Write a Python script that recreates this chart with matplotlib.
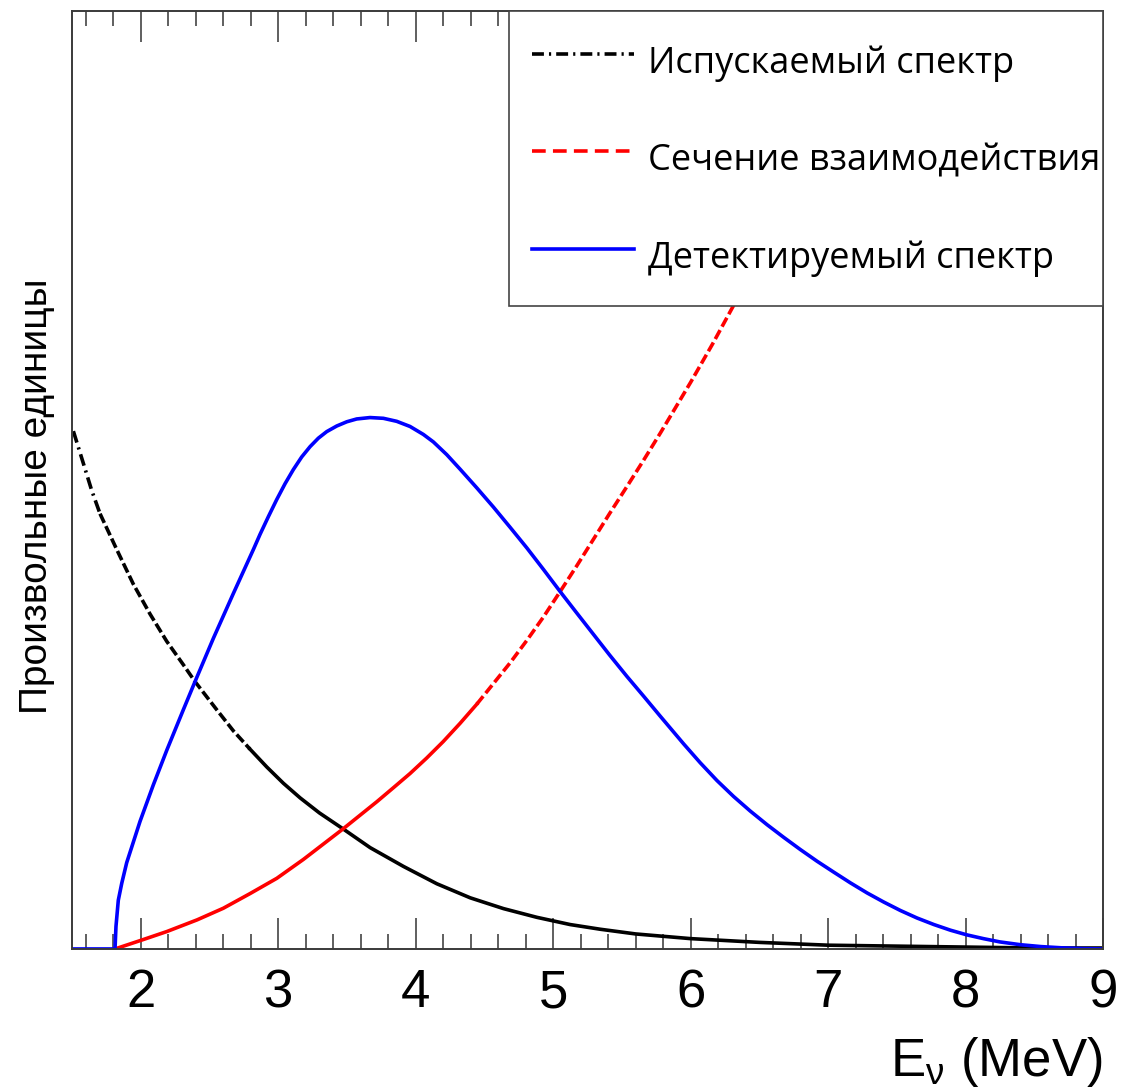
import numpy as np
import matplotlib
matplotlib.use("Agg")
from matplotlib import pyplot as plt
from matplotlib.lines import Line2D
from matplotlib.ticker import MultipleLocator

# Energy spectra (arbitrary units, axis height = 1)

# emitted spectrum
e_emit = [1.51, 1.582, 1.643, 1.704, 1.825, 1.946, 2.068, 2.189, 2.31, 2.395, 2.553, 2.674,
          2.795, 2.917, 3.038, 3.16, 3.30, 3.472, 3.669, 3.911, 4.154, 4.397, 4.639, 4.882,
          5.124, 5.343, 5.6, 6.0, 6.5, 7.0, 7.5, 8.0, 8.5, 9.0]
y_emit = [0.552, 0.518, 0.489, 0.464, 0.426, 0.389, 0.357, 0.328, 0.303, 0.285, 0.255, 0.2325,
          0.213, 0.194, 0.1766, 0.161, 0.145, 0.128, 0.108, 0.088, 0.0695, 0.0545, 0.043, 0.0337,
          0.026, 0.021, 0.016, 0.011, 0.007, 0.004, 0.003, 0.002, 0.001, 0.001]

# interaction cross section
e_xsec = [1.813, 2.01, 2.189, 2.41, 2.601, 2.795, 2.99, 3.183, 3.472, 3.718, 3.839, 3.959,
          4.08, 4.2, 4.323, 4.445, 4.566, 4.687, 4.809, 4.93, 5.051, 5.17, 5.29, 5.41,
          5.537, 5.658, 5.78, 6.0, 6.16, 6.32, 6.45]
y_xsec = [0.0, 0.0096, 0.0185, 0.031, 0.0434, 0.059, 0.0753, 0.0954, 0.128, 0.157, 0.172, 0.187,
          0.2035, 0.221, 0.2405, 0.261, 0.283, 0.305, 0.329, 0.354, 0.381, 0.408, 0.436, 0.464,
          0.493, 0.521, 0.550, 0.604, 0.645, 0.688, 0.72]

# detected spectrum
e_det = [1.50, 1.813, 1.820, 1.837, 1.862, 1.898, 1.995, 2.092, 2.19, 2.31, 2.395, 2.528,
         2.674, 2.82, 2.868, 2.929, 2.989, 3.050, 3.110, 3.171, 3.232, 3.292, 3.353, 3.426,
         3.499, 3.571, 3.668, 3.765, 3.862, 3.959, 4.056, 4.129, 4.226, 4.323, 4.445, 4.566,
         4.687, 4.809, 4.930, 5.051, 5.17, 5.29, 5.41, 5.537, 5.658, 5.78, 5.95, 6.07, 6.192,
         6.313, 6.434, 6.556, 6.677, 6.798, 6.92, 7.04, 7.162, 7.284, 7.405, 7.526, 7.647,
         7.77, 7.89, 8.01, 8.13, 8.25, 8.4, 8.55, 8.7, 8.85, 9.0]
y_det = [0.0, 0.0, 0.024, 0.052, 0.070, 0.092, 0.136, 0.175, 0.212, 0.255, 0.285, 0.331,
         0.379, 0.426, 0.442, 0.461, 0.479, 0.496, 0.511, 0.5245, 0.5355, 0.5445, 0.5515, 0.5575,
         0.562, 0.565, 0.5665, 0.5657, 0.5625, 0.557, 0.5485, 0.5405, 0.527, 0.5115, 0.4915, 0.471,
         0.4495, 0.4275, 0.4045, 0.381, 0.3585, 0.336, 0.3135, 0.2905, 0.2695, 0.248, 0.2185, 0.1985, 0.1795,
         0.1625, 0.147, 0.1325, 0.119, 0.106, 0.0935, 0.082, 0.0705, 0.0597, 0.050, 0.041, 0.033,
         0.026, 0.020, 0.015, 0.011, 0.0075, 0.0045, 0.0025, 0.0012, 0.0004, 0.0]

labels = ["Испускаемый спектр", "Сечение взаимодействия", "Детектируемый спектр"]
x_ticks = [2, 3, 4, 5, 6, 7, 8, 9]

plt.rcParams['font.family'] = ['Liberation Sans', 'DejaVu Sans']
plt.rcParams['mathtext.fontset'] = 'custom'
plt.rcParams['mathtext.rm'] = 'Liberation Sans'

fig = plt.figure(figsize=(11.23, 10.92), dpi=100)
ax = fig.add_axes([0.0641, 0.131, 0.9181, 0.859])

lw = 2.6
e_emit = np.array(e_emit)
y_emit = np.array(y_emit)
e_xsec = np.array(e_xsec)
y_xsec = np.array(y_xsec)

# the original line styles look broken into pieces, so draw each piece on its own
m1 = e_emit <= 1.704
m2 = (e_emit >= 1.704) & (e_emit <= 2.795)
m3 = e_emit >= 2.795
ax.plot(e_emit[m1], y_emit[m1], color='black', lw=lw, dashes=(3.3, 1.4, 0.6, 1.4))
ax.plot(e_emit[m2], y_emit[m2], color='black', lw=lw, dashes=(2.8, 1.0))
ax.plot(e_emit[m3], y_emit[m3], color='black', lw=lw)

r1 = e_xsec <= 4.445
r2 = e_xsec >= 4.445
ax.plot(e_xsec[r1], y_xsec[r1], color='red', lw=lw)
ax.plot(e_xsec[r2], y_xsec[r2], color='red', lw=lw, dashes=(2.8, 1.1))

ax.plot(e_det, y_det, color='blue', lw=lw)

ax.set_xlim(1.5, 9)
ax.set_ylim(0, 1)
ax.set_xticks(x_ticks)
ax.xaxis.set_minor_locator(MultipleLocator(0.2))
ax.set_yticks([])
ax.tick_params(axis='x', which='both', direction='in', top=True, bottom=True,
               colors='#444444', labelcolor='black', width=1.2)
ax.tick_params(axis='x', which='major', length=22, pad=14, labelsize=38)
ax.tick_params(axis='x', which='minor', length=11)
for s in ax.spines.values():
    s.set_color('#3a3a3a')
    s.set_linewidth(1.4)

ax.set_xlabel(r'E$_{\mathrm{\nu}}$ (MeV)', fontsize=38, loc='right', labelpad=12)
ax.set_ylabel("Произвольные единицы", fontsize=28)
ax.yaxis.set_label_coords(-0.016, 0.483)

handles = [Line2D([], [], color='black', lw=lw, dashes=(3.3, 1.4, 0.6, 1.4)),
           Line2D([], [], color='red', lw=lw, dashes=(3.8, 2.0)),
           Line2D([], [], color='blue', lw=lw)]
leg = ax.legend(handles, labels, loc='upper right', bbox_to_anchor=(0.4238, 0.0, 0.5762, 1.0),
                mode='expand', borderaxespad=0, fancybox=False, framealpha=1,
                edgecolor='#444444', handlelength=2.8, handleheight=1.9, handletextpad=0.39,
                labelspacing=1.22, borderpad=0.65,
                prop={'family': ['Open Sans', 'DejaVu Sans'], 'size': 26})
leg.get_frame().set_linewidth(1.2)

plt.savefig('out.png', dpi=100)
